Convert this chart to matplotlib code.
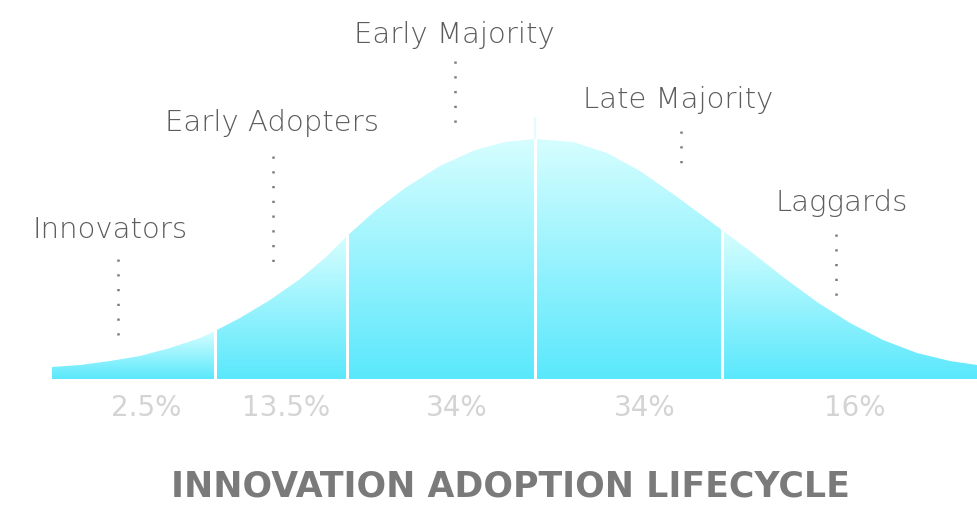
import numpy as np
import matplotlib
matplotlib.use("Agg")
import matplotlib.pyplot as plt
from matplotlib.colors import LinearSegmentedColormap
from matplotlib.patches import Polygon

# curve outline (pixel-like units, y grows downward)
curve_x = [52, 80, 110, 140, 170, 200, 215, 240, 270, 300, 325, 347, 375, 405, 440,
           475, 505, 535, 573, 607, 640, 673, 707, 722, 750, 783, 817, 850, 883,
           917, 950, 977]
curve_y = [368, 366, 362, 357, 349, 339, 332, 319, 301, 280, 259, 237, 212, 189, 167,
           151, 143, 140, 143, 154, 172, 195, 220, 231, 252, 278, 303, 324, 341,
           354, 362, 366]
base_y = 380
edges = [52, 215, 347, 535, 722, 977]

groups = ["Innovators", "Early Adopters", "Early Majority", "Late Majority", "Laggards"]
shares = ["2.5%", "13.5%", "34%", "34%", "16%"]
label_x = [110, 272, 454, 678, 842]
label_base = [238, 131, 43, 108, 211]
dot_x = [118, 273, 455, 681, 836]
dot_top = [260, 157, 62, 132, 235]
dot_bottom = [343, 274, 129, 165, 302]
share_x = [146, 286, 457, 645, 855]
title = "INNOVATION ADOPTION LIFECYCLE"

fig = plt.figure(figsize=(9.77, 5.06), dpi=100)
ax = fig.add_axes([0, 0, 1, 1])

cmap = LinearSegmentedColormap.from_list("cy", ["#d6feff", "#5ae8fc"])
grad = np.linspace(0, 1, 256).reshape(-1, 1)
cx = np.array(curve_x)
cy = np.array(curve_y)
for i in range(len(edges) - 1):
    x0, x1 = edges[i], edges[i + 1]
    m = (cx >= x0) & (cx <= x1)
    pts = list(zip(cx[m], cy[m])) + [(x1, base_y), (x0, base_y)]
    poly = Polygon(pts, closed=True, facecolor="none", edgecolor="none")
    ax.add_patch(poly)
    top = cy[m].min()
    im = ax.imshow(grad, cmap=cmap, aspect="auto", origin="upper",
                   extent=(x0, x1, base_y, top), interpolation="bilinear")
    im.set_clip_path(poly)

# white dividers between the segments
for x in edges[1:-1]:
    ytop = np.interp(x, cx, cy)
    ax.vlines(x, ytop - 2, base_y + 1, colors="white", lw=2.2)
ax.vlines(535, 118, 140, colors="#e4fcff", lw=1.5)

for i in range(len(groups)):
    ax.text(label_x[i], label_base[i], groups[i], ha="center", va="baseline",
            fontsize=21, fontweight="light", color="#5c5c5c", family="DejaVu Sans")
    ax.vlines(dot_x[i], dot_top[i], dot_bottom[i], colors="#7a7a7a", lw=1.8,
              linestyles=(0, (0.9, 5.0)))
    ax.text(share_x[i], 416, shares[i], ha="center", va="baseline",
            fontsize=20, color="#d4d4d4", family="DejaVu Sans")

ax.text(510, 497, title, ha="center", va="baseline", fontsize=25,
        fontweight="bold", color="#7a7a7a", family="DejaVu Sans")

ax.set_xlim(0, 977)
ax.set_ylim(506, 0)
ax.axis("off")
plt.savefig("out.png", dpi=100)
